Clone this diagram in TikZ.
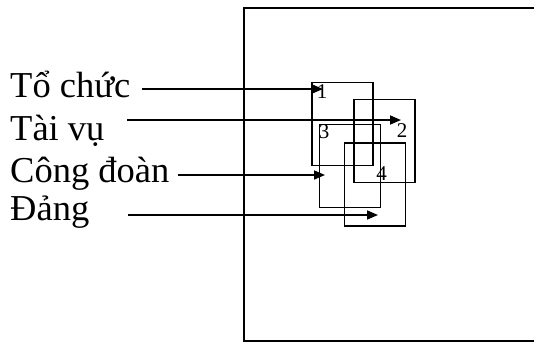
\documentclass[tikz,border=0pt]{standalone}
\usepackage{fontspec}
\setmainfont{Liberation Serif}
\usetikzlibrary{arrows.meta}
\begin{document}
\begin{tikzpicture}[x=1pt,y=-1pt,
  lbl/.style={anchor=base west, inner sep=0pt, font=\fontsize{36.5}{42}\selectfont},
  num/.style={inner sep=0pt, font=\fontsize{21}{25}\selectfont},
  box/.style={draw, line width=1.6pt, inner sep=0pt, outer sep=0pt, minimum width=61pt, minimum height=83pt, anchor=north west},
  arr/.style={line width=1.6pt, -{Triangle[length=11pt,width=9pt]}}]
\useasboundingbox (0,0) rectangle (534,343);
% outer frame
\draw[line width=2.2pt] (538,8) -- (244,8) -- (244,341) -- (538,341);
% overlapping boxes
\node[box] (b1) at (311.7,82.3) {};
\node[box] (b2) at (354,99.3) {};
\node[box] (b3) at (319.3,124.3) {};
\node[box] (b4) at (344.3,142.7) {};
% numbers
\node[num] (n1) at (322,92) {1};
\node[num] (n2) at (402,131) {2};
\node[num] (n3) at (324,132) {3};
\node[num] (n4) at (381.5,174) {4};
% labels
\node[lbl] (t1) at (10,97) {Tổ chức};
\node[lbl] (t2) at (10,140) {Tài vụ};
\node[lbl] (t3) at (10,182) {Công đoàn};
\node[lbl] (t4) at (10,220) {Đảng};
% arrow ends
\coordinate (s1) at (142,89);
\coordinate (e1) at (323,89);
\coordinate (s2) at (127,120);
\coordinate (e2) at (401,120);
\coordinate (s3) at (178,175);
\coordinate (e3) at (325,175);
\coordinate (s4) at (128,215);
\coordinate (e4) at (378,215);
\draw[arr] (s1) -- (e1);
\draw[arr] (s2) -- (e2);
\draw[arr] (s3) -- (e3);
\draw[arr] (s4) -- (e4);
\end{tikzpicture}
\end{document}
